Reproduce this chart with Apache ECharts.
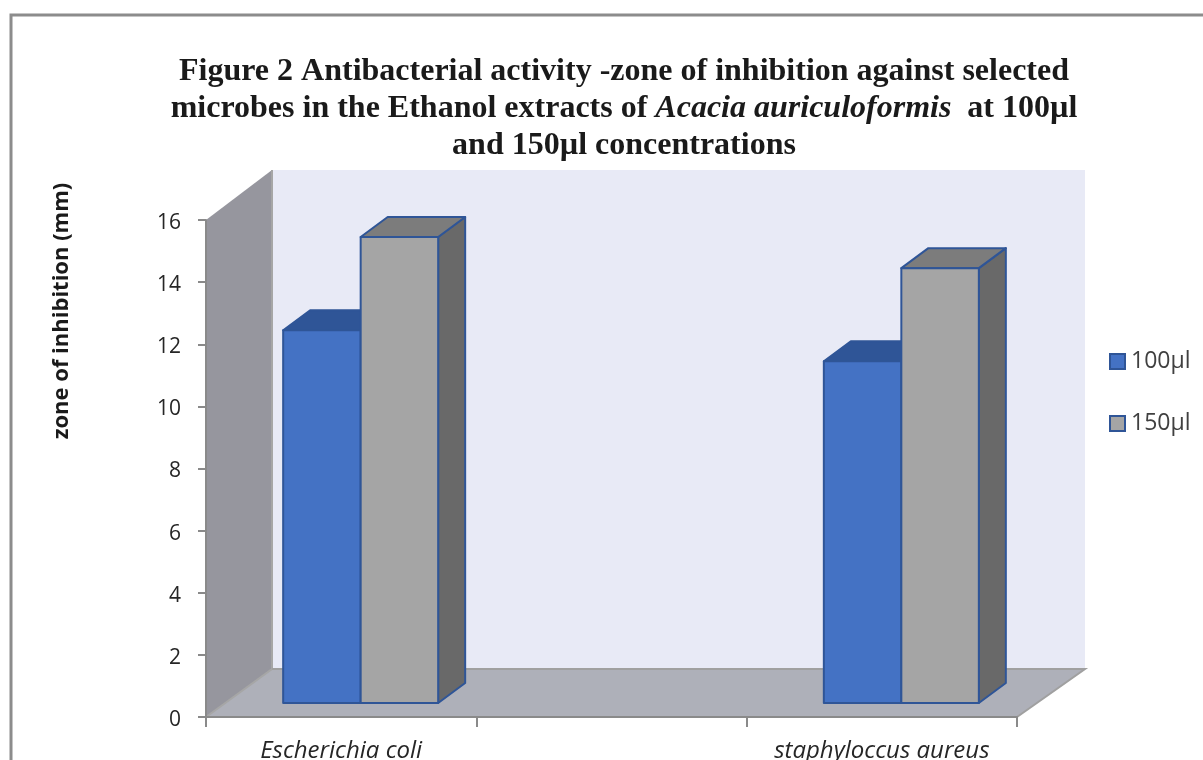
<!DOCTYPE html>
<html>
<head>
<meta charset="utf-8">
<style>html,body{margin:0;padding:0;background:#fff;overflow:hidden}#main{width:1203px;height:760px}</style>
<script src="https://cdn.jsdelivr.net/npm/echarts@6/dist/echarts.min.js"></script>
</head>
<body>
<div id="main"></div>
<script>
const categories = ['Escherichia coli', '', 'staphyloccus aureus'];
const values100 = [12, null, 11];
const values150 = [15, null, 14];
const yTicks = { min: 0, max: 16, step: 2 };
const seriesNames = ['100µl', '150µl'];

// fake 3d offsets, in pixels
const WALL_DX = 66, WALL_RIGHT_DX = 68, WALL_TOP_DY = -50, WALL_BOTTOM_DY = -48;
const BAR_DX = 27, BAR_DY = -20;
const BAR_SHIFT_X = 19.5, BAR_SHIFT_Y = -14, BAR_W = 77.5;

const chart = echarts.init(document.getElementById('main'), null, { renderer: 'canvas' });

function renderWalls(params, api) {
  const cs = params.coordSys;
  const l = cs.x, r = cs.x + cs.width, t = cs.y, b = cs.y + cs.height;
  const bl = l + WALL_DX, br = r + WALL_RIGHT_DX, bt = t + WALL_TOP_DY, bb = b + WALL_BOTTOM_DY;
  return {
    type: 'group',
    children: [
      { type: 'polygon', shape: { points: [[bl, bt], [br, bt], [br, bb], [bl, bb]] }, style: { fill: '#e8eaf6' } },
      { type: 'polygon', shape: { points: [[l, t], [bl, bt], [bl, bb], [l, b]] }, style: { fill: '#96969e' } },
      { type: 'polygon', shape: { points: [[l, b], [bl, bb], [br, bb], [r, b]] }, style: { fill: '#aeb0b9' } },
      { type: 'polyline', shape: { points: [[bl, bt], [bl, bb], [l, b]] }, style: { fill: 'none', stroke: '#a6a6a6', lineWidth: 2 } },
      { type: 'polyline', shape: { points: [[bl, bb], [br, bb], [r, b]] }, style: { fill: 'none', stroke: '#a0a0a0', lineWidth: 2 } }
    ]
  };
}

function barRenderer(slot, front, top, side) {
  return function (params, api) {
    const v = api.value(1);
    if (v == null || isNaN(v)) return;
    const base = api.coord([api.value(0), 0]);
    const head = api.coord([api.value(0), v]);
    const x0 = base[0] + BAR_SHIFT_X + (slot - 1) * BAR_W;
    const x1 = x0 + BAR_W;
    const y0 = base[1] + BAR_SHIFT_Y;
    const y1 = head[1] + BAR_SHIFT_Y;
    const line = { stroke: '#2f5597', lineWidth: 2, lineJoin: 'round' };
    return {
      type: 'group',
      children: [
        { type: 'polygon', shape: { points: [[x1, y1], [x1 + BAR_DX, y1 + BAR_DY], [x1 + BAR_DX, y0 + BAR_DY], [x1, y0]] }, style: Object.assign({ fill: side }, line) },
        { type: 'polygon', shape: { points: [[x0, y1], [x0 + BAR_DX, y1 + BAR_DY], [x1 + BAR_DX, y1 + BAR_DY], [x1, y1]] }, style: Object.assign({ fill: top }, line) },
        { type: 'rect', shape: { x: x0, y: y1, width: BAR_W, height: y0 - y1 }, style: Object.assign({ fill: front }, line) }
      ]
    };
  };
}

chart.setOption({
  backgroundColor: '#fff',
  animation: false,
  title: {
    left: 619,
    top: 48,
    textAlign: 'center',
    text: '{b|Figure 2 Antibacterial activity -zone of inhibition against selected}\n' +
      '{b|microbes in the Ethanol extracts of }{i|Acacia auriculoformis}{b|  at 100µl}\n' +
      '{b|and 150µl concentrations}',
    textStyle: {
      rich: {
        b: { fontFamily: 'Liberation Serif', fontWeight: 'bold', fontSize: 32, color: '#1a1a1a', lineHeight: 37 },
        i: { fontFamily: 'Liberation Serif', fontWeight: 'bold', fontStyle: 'italic', fontSize: 32, color: '#1a1a1a', lineHeight: 37 }
      }
    }
  },
  legend: {
    orient: 'vertical',
    left: 1109,
    top: 350,
    padding: 0,
    itemWidth: 15,
    itemHeight: 15,
    itemGap: 39,
    textStyle: { color: '#404040', fontFamily: 'Open Sans', fontSize: 23, padding: [0, 0, 0, 1] },
    data: [
      { name: seriesNames[0], icon: 'rect', itemStyle: { color: '#4472c4', borderColor: '#2f5597', borderWidth: 2 } },
      { name: seriesNames[1], icon: 'rect', itemStyle: { color: '#a5a5a5', borderColor: '#2f5597', borderWidth: 2 } }
    ]
  },
  grid: { left: 206, top: 220, width: 811, height: 497, containLabel: false, outerBoundsMode: 'none' },
  xAxis: {
    type: 'category',
    data: categories,
    z: 3,
    axisLine: { lineStyle: { color: '#8a8a8a', width: 2 } },
    axisTick: { show: true, alignWithLabel: false, length: 10, lineStyle: { color: '#8a8a8a', width: 2 } },
    axisLabel: { margin: 22, interval: 0, fontStyle: 'italic', color: '#262626', fontFamily: 'Open Sans', fontSize: 24 }
  },
  yAxis: {
    type: 'value',
    min: yTicks.min,
    max: yTicks.max,
    interval: yTicks.step,
    z: 3,
    axisLine: { show: true, lineStyle: { color: '#8a8a8a', width: 2 } },
    axisTick: { show: true, length: 8, lineStyle: { color: '#8a8a8a', width: 2 } },
    axisLabel: {
      margin: 25,
      formatter: '{t|{value}}',
      rich: { t: { color: '#262626', fontFamily: 'Open Sans', fontSize: 21, padding: [6, 0, 0, 0] } }
    },
    splitLine: { show: false }
  },
  graphic: [
    { type: 'rect', z: 10, silent: true, shape: { x: 11, y: 15, width: 1400, height: 900 }, style: { fill: 'none', stroke: '#8c8c8c', lineWidth: 3 } },
    { type: 'text', z: 10, x: 62, y: 311, rotation: Math.PI / 2, style: { text: 'zone of inhibition (mm)', fontFamily: 'Open Sans', fontWeight: 'bold', fontSize: 22, fill: '#1a1a1a', align: 'center', verticalAlign: 'middle' } }
  ],
  series: [
    { type: 'custom', name: 'walls', silent: true, z: 1, clip: false, renderItem: renderWalls, data: [[0, 0]] },
    { type: 'custom', name: seriesNames[0], z: 2, clip: false, renderItem: barRenderer(0, '#4472c4', '#2f5597', '#2f5597'), encode: { x: 0, y: 1 }, data: values100.map((v, i) => [i, v]) },
    { type: 'custom', name: seriesNames[1], z: 2, clip: false, renderItem: barRenderer(1, '#a5a5a5', '#7c7c7c', '#696969'), encode: { x: 0, y: 1 }, data: values150.map((v, i) => [i, v]) }
  ]
});
</script>
</body>
</html>
